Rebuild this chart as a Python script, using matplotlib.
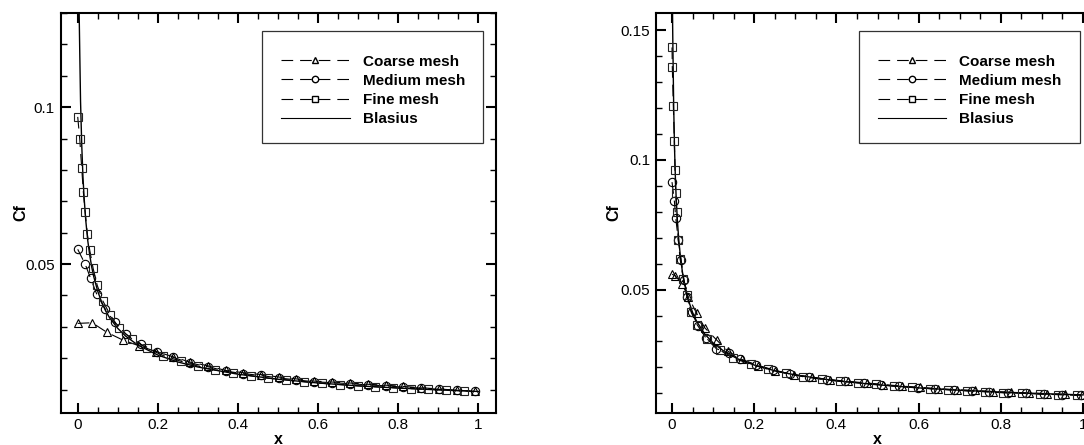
import numpy as np
import matplotlib
matplotlib.use('Agg')
import matplotlib.pyplot as plt
from matplotlib.lines import Line2D
from matplotlib.patches import Rectangle
from matplotlib.ticker import MultipleLocator, FuncFormatter

plt.rcParams['font.family'] = ['Liberation Sans', 'DejaVu Sans']
plt.rcParams['lines.scale_dashes'] = False

# ---- left panel data ----
coarse_x_l = [0.0, 0.036, 0.0735, 0.1125, 0.152, 0.196, 0.2375, 0.279, 0.325, 0.369, 0.4125,
              0.457, 0.502, 0.546, 0.59, 0.635, 0.679, 0.7235, 0.7685, 0.8125, 0.857, 0.902,
              0.946, 0.991]
coarse_y_l = [0.0311, 0.0313, 0.0282, 0.0258, 0.0240, 0.0221, 0.0205, 0.0188, 0.0176, 0.0161,
              0.0154, 0.0148, 0.0140, 0.0134, 0.0127, 0.0124, 0.0121, 0.0117, 0.0114, 0.0110,
              0.0106, 0.0102, 0.0098, 0.0095]

medium_x_l = [0.0, 0.0185, 0.032, 0.0475, 0.0685, 0.092, 0.121, 0.1585, 0.1975, 0.2375, 0.279,
              0.325, 0.369, 0.4125, 0.457, 0.502, 0.546, 0.59, 0.635, 0.679, 0.7235, 0.7685,
              0.8125, 0.857, 0.902, 0.946, 0.991]
medium_y_l = [0.0547, 0.0500, 0.0455, 0.0404, 0.0357, 0.0314, 0.0276, 0.0244, 0.0221, 0.0203,
              0.0185, 0.0173, 0.0159, 0.0151, 0.0145, 0.0137, 0.0131, 0.0125, 0.0122, 0.0119,
              0.0115, 0.0112, 0.0108, 0.0105, 0.0101, 0.0098, 0.0094]

fine_x_l = [0.0, 0.005, 0.01, 0.014, 0.0185, 0.024, 0.030, 0.0385, 0.0485, 0.0625, 0.081, 0.104,
            0.136, 0.1725, 0.214, 0.2585, 0.3, 0.3435, 0.3875, 0.432, 0.476, 0.521, 0.565, 0.61,
            0.654, 0.6985, 0.742, 0.7875, 0.832, 0.875, 0.919, 0.9635]
fine_y_l = [0.0969, 0.0899, 0.0805, 0.0730, 0.0666, 0.0596, 0.0544, 0.0486, 0.0433, 0.0383,
            0.0338, 0.0295, 0.0260, 0.0232, 0.0208, 0.0190, 0.0175, 0.0162, 0.0154, 0.0144,
            0.0136, 0.0131, 0.0125, 0.0120, 0.0116, 0.0112, 0.0109, 0.0106, 0.0103, 0.0101,
            0.0099, 0.0096]

blasius_x_l = [0.003, 0.005, 0.007, 0.010, 0.013, 0.016, 0.020, 0.025, 0.030, 0.035, 0.040,
               0.050, 0.060, 0.070, 0.080, 0.100, 0.120, 0.150, 0.200, 0.250, 0.300, 0.400,
               0.500, 0.600, 0.700, 0.800, 0.900, 1.000]
blasius_y_l = [0.135, 0.118, 0.102, 0.088, 0.078, 0.071, 0.064, 0.0575, 0.0528, 0.0490, 0.0460,
               0.0413, 0.0378, 0.0350, 0.0328, 0.0295, 0.0270, 0.0242, 0.0210, 0.0188, 0.0172,
               0.0149, 0.0133, 0.0121, 0.0112, 0.0105, 0.0099, 0.0094]

# ---- right panel data ----
coarse_x_r = [0.0, 0.008, 0.0236, 0.0397, 0.060, 0.080, 0.109, 0.1355, 0.1696, 0.21, 0.2506,
              0.297, 0.340, 0.384, 0.429, 0.474, 0.514, 0.559, 0.603, 0.648, 0.693, 0.737,
              0.780, 0.824, 0.868, 0.913, 0.957, 0.998]
coarse_y_r = [0.0559, 0.0553, 0.0523, 0.0472, 0.0408, 0.0352, 0.0305, 0.0263, 0.0231, 0.0206,
              0.0187, 0.0172, 0.0162, 0.0153, 0.0146, 0.0140, 0.0134, 0.0128, 0.0123, 0.0118,
              0.0114, 0.0111, 0.0107, 0.0104, 0.0101, 0.0099, 0.0096, 0.0094]

medium_x_r = [0.0, 0.0056, 0.009, 0.0153, 0.022, 0.029, 0.037, 0.048, 0.063, 0.083, 0.108,
              0.138, 0.166, 0.204, 0.246, 0.288, 0.333, 0.377, 0.422, 0.466, 0.509, 0.553,
              0.598, 0.641, 0.685, 0.729, 0.772, 0.817, 0.861, 0.906, 0.949, 0.994]
medium_y_r = [0.0914, 0.0843, 0.0777, 0.0690, 0.0615, 0.0538, 0.0472, 0.0412, 0.0360, 0.0312,
              0.0272, 0.0255, 0.0232, 0.0210, 0.0191, 0.0174, 0.0163, 0.0153, 0.0146, 0.0139,
              0.0133, 0.0127, 0.0122, 0.0117, 0.0113, 0.0109, 0.0106, 0.0102, 0.0100, 0.0097,
              0.0095, 0.0093]

fine_x_r = [0.0, 0.0007, 0.0032, 0.0056, 0.0073, 0.009, 0.0114, 0.0153, 0.0195, 0.0275, 0.0357,
            0.0462, 0.0616, 0.0844, 0.1168, 0.149, 0.191, 0.233, 0.277, 0.3195, 0.364, 0.408,
            0.453, 0.496, 0.540, 0.584, 0.628, 0.672, 0.717, 0.762, 0.806, 0.851, 0.895, 0.940,
            0.985]
fine_y_r = [0.1433, 0.1356, 0.1206, 0.1074, 0.0959, 0.0871, 0.0798, 0.0690, 0.0619, 0.0542,
            0.0478, 0.0414, 0.0363, 0.0311, 0.0266, 0.0236, 0.0212, 0.0193, 0.0177, 0.0164,
            0.0154, 0.0147, 0.0141, 0.0135, 0.0128, 0.0123, 0.0118, 0.0114, 0.0110, 0.0106,
            0.0102, 0.0100, 0.0097, 0.0095, 0.0092]

blasius_x_r = [0.0005, 0.002, 0.004, 0.006, 0.008, 0.010, 0.013, 0.016, 0.020, 0.025, 0.030,
               0.040, 0.050, 0.060, 0.080, 0.100, 0.130, 0.160, 0.200, 0.250, 0.300, 0.400,
               0.500, 0.600, 0.700, 0.800, 0.900, 1.000]
blasius_y_r = [0.165, 0.145, 0.121, 0.105, 0.094, 0.0857, 0.0767, 0.0700, 0.0633, 0.0571,
               0.0525, 0.0458, 0.0412, 0.0377, 0.0328, 0.0294, 0.0258, 0.0233, 0.0209, 0.0187,
               0.0171, 0.0148, 0.0133, 0.0121, 0.0112, 0.0105, 0.0099, 0.0094]

labels = ['Coarse mesh', 'Medium mesh', 'Fine mesh', 'Blasius']

W, H = 1084, 445
fig = plt.figure(figsize=(W / 100, H / 100), dpi=100)

dash = (8.4, 5.0)
fmt = FuncFormatter(lambda v, p: '%g' % round(v, 6))


def panel(rect, xlim, ylim, coarse, medium, fine, blasius, ylab_x, leg_box, leg_anchor):
    ax = fig.add_axes(rect)
    ax.plot(blasius[0], blasius[1], color='k', lw=1.0)
    ax.plot(coarse[0], coarse[1], color='k', lw=0.8, dashes=dash, marker='^', ms=6.4,
            mfc='none', mec='k', mew=0.8)
    ax.plot(medium[0], medium[1], color='k', lw=0.8, dashes=dash, marker='o', ms=6.0,
            mfc='none', mec='k', mew=0.8)
    ax.plot(fine[0], fine[1], color='k', lw=0.8, dashes=dash, marker='s', ms=5.6,
            mfc='none', mec='#222222', mew=0.8)
    ax.set_xlim(*xlim)
    ax.set_ylim(*ylim)
    ax.xaxis.set_major_locator(MultipleLocator(0.2))
    ax.xaxis.set_minor_locator(MultipleLocator(0.05))
    ax.yaxis.set_major_locator(MultipleLocator(0.05))
    ax.yaxis.set_minor_locator(MultipleLocator(0.01))
    ax.xaxis.set_major_formatter(fmt)
    ax.yaxis.set_major_formatter(fmt)
    ax.tick_params(which='both', direction='in', top=True, right=True, labelsize=11)
    ax.tick_params(which='major', length=7.2, width=1.5, pad=4)
    ax.tick_params(which='minor', length=4.0, width=1.0)
    for s in ax.spines.values():
        s.set_linewidth(1.5)
    ax.set_xlabel('x', fontsize=11.5, fontweight='bold')
    ax.set_ylabel('Cf', fontsize=11.5, fontweight='bold')
    ax.xaxis.set_label_coords(0.5, -0.048)
    ax.yaxis.set_label_coords(ylab_x, 0.5)

    # legend box like the original
    bx0, by0, bx1, by1 = leg_box
    ax.add_patch(Rectangle((bx0, by0), bx1 - bx0, by1 - by0, transform=ax.transAxes,
                           fill=False, ec='#333333', lw=0.9, zorder=5))
    handles = [
        Line2D([], [], color='k', lw=0.8, dashes=dash, marker='^', ms=5, mfc='none', mec='k'),
        Line2D([], [], color='k', lw=0.8, dashes=dash, marker='o', ms=4.6, mfc='none', mec='k'),
        Line2D([], [], color='k', lw=0.8, dashes=dash, marker='s', ms=4.4, mfc='none', mec='k'),
        Line2D([], [], color='k', lw=0.8),
    ]
    ax.legend(handles, labels, loc='upper left', bbox_to_anchor=leg_anchor, frameon=False,
              borderpad=0, borderaxespad=0, handlelength=4.5, handletextpad=0.85,
              labelspacing=0.345, numpoints=1, prop={'weight': 'bold', 'size': 11})
    return ax


# left axes: frame x 60.5..496, y 12.7..412.7 px
lw_px = 435.5
panel([60.5 / W, (H - 412.7) / H, lw_px / W, 400 / H], (-0.043, 1.044), (0.00264, 0.1301),
      (coarse_x_l, coarse_y_l), (medium_x_l, medium_y_l), (fine_x_l, fine_y_l),
      (blasius_x_l, blasius_y_l), (28 - 60.5) / lw_px,
      ((261.9 - 60.5) / lw_px, 1 - (143 - 12.7) / 400, (482.8 - 60.5) / lw_px, 1 - (31 - 12.7) / 400),
      ((280.8 - 60.5) / lw_px, 1 - (54.5 - 12.7) / 400))

# right axes: frame x 656..1099 (cut by figure edge)
rw_px = 443.0
panel([656 / W, (H - 412.7) / H, rw_px / W, 400 / H], (-0.039, 1.039), (0.00254, 0.1567),
      (coarse_x_r, coarse_y_r), (medium_x_r, medium_y_r), (fine_x_r, fine_y_r),
      (blasius_x_r, blasius_y_r), (621.5 - 656) / rw_px,
      ((858.5 - 656) / rw_px, 1 - (143 - 12.7) / 400, (1079.5 - 656) / rw_px, 1 - (31 - 12.7) / 400),
      ((877.5 - 656) / rw_px, 1 - (54.5 - 12.7) / 400))

fig.savefig('out.png', dpi=100)
